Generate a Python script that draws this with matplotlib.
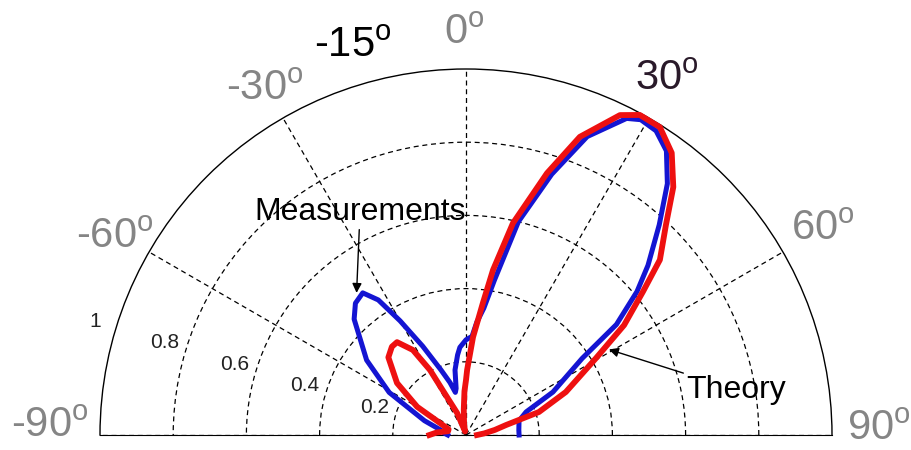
import numpy as np
import matplotlib
matplotlib.use('Agg')
import matplotlib.pyplot as plt

plt.rcParams['font.family'] = ['Liberation Sans', 'DejaVu Sans']

# measured pattern (blue), angle in degrees from broadside, normalised amplitude
theta_meas = [-90, -85, -79, -71, -61, -53, -44, -40, -36, -33, -30, -26, -21, -17, -14, -12,
              -9.6, -6, -4, 0, 3.5, 5.5, 8, 10.4, 13.8, 18.2, 22.1, 26.9, 29, 32, 35.2, 38.7,
              42.6, 47, 50, 53.7, 56.6, 63.7, 69, 75, 84.6, 90]
r_meas = [0.05, 0.06, 0.07, 0.12, 0.24, 0.34, 0.44, 0.47, 0.48, 0.44, 0.36, 0.27, 0.19, 0.15,
          0.12, 0.13, 0.18, 0.22, 0.24, 0.26, 0.27, 0.31, 0.35, 0.43, 0.60, 0.75, 0.88, 0.97,
          0.985, 0.98, 0.95, 0.88, 0.78, 0.68, 0.61, 0.51, 0.38, 0.265, 0.176, 0.15, 0.145, 0.145]

# theory pattern (red)
theta_th = [-90, -85, -78, -72, -65, -60, -53, -45, -40, -36.6, -32, -29, -26.6, -22, -19, -15,
            -10, -5, -2, 0, 1, 4.1, 7.3, 9.3, 12.5, 17.2, 20.9, 25.7, 28.5, 32.2, 36.1, 39.9,
            43.6, 47.9, 51, 55.2, 59.4, 66.7, 72.5, 76, 80, 85, 90]
r_th = [0.10, 0.08, 0.05, 0.05, 0.08, 0.154, 0.236, 0.30, 0.315, 0.316, 0.274, 0.203, 0.116,
        0.065, 0.02, 0.01, 0.03, 0.07, 0.12, 0.15, 0.178, 0.268, 0.364, 0.457, 0.593, 0.749,
        0.872, 0.970, 0.995, 0.994, 0.954, 0.883, 0.792, 0.714, 0.622, 0.526, 0.413, 0.297,
        0.209, 0.113, 0.08, 0.05, 0.03]

angle_ticks = [-90, -60, -30, 0, 30, 60, 90]
r_ticks = [0.2, 0.4, 0.6, 0.8]
r_labels = ['0.2', '0.4', '0.6', '0.8', '1']

# angle labels: (text, theta, r, colour)
angle_labels = [('-90', -88.8, 1.137, '#858585'),
                ('-60', -60.6, 1.10, '#858585'),
                ('-30', -30.2, 1.093, '#858585'),
                ('-15', -16.2, 1.107, 'black'),
                ('0', -0.3, 1.098, '#858585'),
                ('30', 29.4, 1.117, '#2a1a2a'),
                ('60', 60.0, 1.126, '#858585'),
                ('90', 89.2, 1.129, '#858585')]


def ang(deg):
    # 0 deg at top, positive clockwise -> matplotlib's counter-clockwise from east
    return np.radians(90 - np.asarray(deg, dtype=float))


fig = plt.figure(figsize=(9.12, 4.5), dpi=100)
# a half polar plot sits in the middle of a square box -> box is 732 px square,
# circle centre 15 px above the bottom edge of the figure
ax = fig.add_axes([100/912, (15 - 183)/450, 732/912, 732/450], projection='polar')
ax.set_thetamin(0)
ax.set_thetamax(180)
ax.set_rlim(0, 1)

ax.set_thetagrids([90 - a for a in angle_ticks], labels=[''] * len(angle_ticks))
ax.set_rgrids(r_ticks, labels=[''] * len(r_ticks))
ax.grid(True, ls=(0, (4, 3)), color='black', lw=0.9)
ax.spines['polar'].set_linewidth(1.0)
ax.spines['start'].set_visible(False)
ax.spines['end'].set_visible(False)
ax.spines['inner'].set_visible(False)

ax.plot(ang(theta_meas), r_meas, color='#1414d2', lw=3.6, solid_joinstyle='round',
        clip_on=False, zorder=3)
ax.plot(ang(theta_th), r_th, color='#ee1010', lw=4.2, solid_joinstyle='round',
        clip_on=False, zorder=4)

for txt, th, rr, col in angle_labels:
    ax.text(ang(th), rr, txt + r'$^{\mathregular{o}}$', color=col, fontsize=30,
            ha='center', va='center', clip_on=False)

for i, lab in enumerate(r_labels):
    ax.text(ang(-73), 0.2 * (i + 1) + 0.06, lab, fontsize=15, color='#222222',
            ha='center', va='center', clip_on=False)

ax.annotate('Measurements', xy=(ang(-37.6), 0.49), xytext=(ang(-25.4), 0.675),
            fontsize=23, ha='center', va='center',
            arrowprops=dict(arrowstyle='-|>', color='black', lw=1.0, shrinkA=0, shrinkB=0,
                            mutation_scale=14))
ax.annotate('Theory', xy=(ang(59.1), 0.455), xytext=(ang(80.5), 0.748),
            fontsize=23, ha='center', va='center',
            arrowprops=dict(arrowstyle='-|>', color='black', lw=1.0, shrinkA=0, shrinkB=0,
                            mutation_scale=14))

fig.savefig('out.png', dpi=100)
